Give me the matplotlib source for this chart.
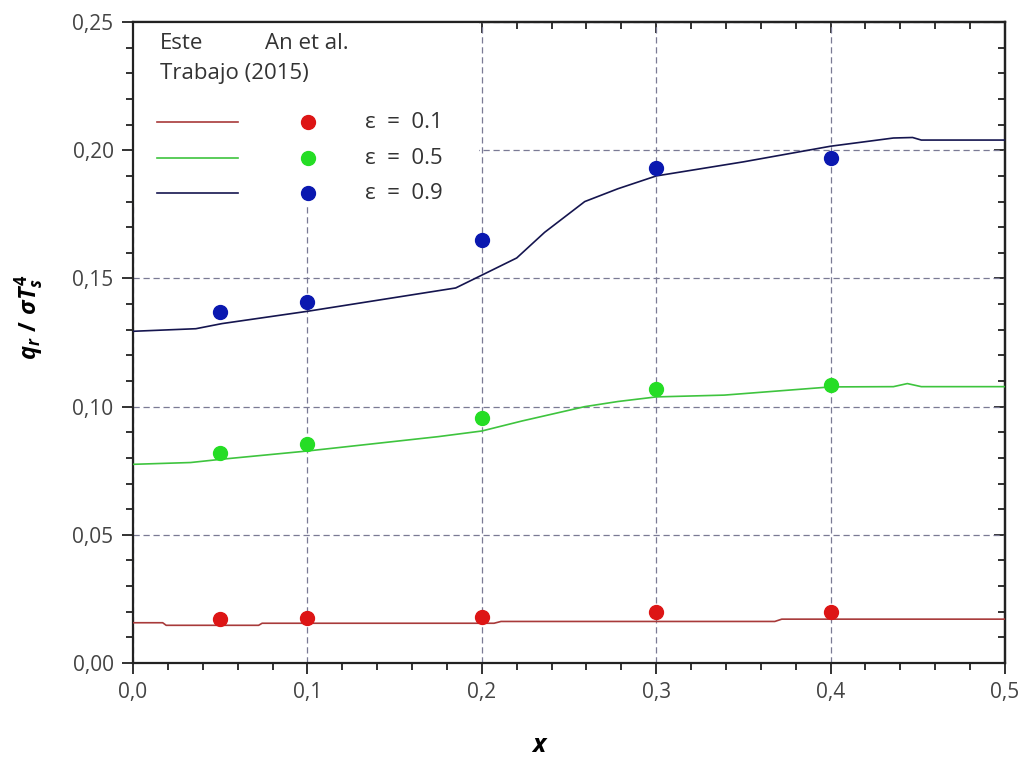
import numpy as np
import matplotlib.pyplot as plt
from matplotlib.ticker import MultipleLocator, FuncFormatter
from matplotlib.patches import Rectangle

plt.rcParams['font.family'] = ['Open Sans', 'DejaVu Sans']
plt.rcParams['mathtext.fontset'] = 'custom'
plt.rcParams['mathtext.it'] = 'Open Sans:italic:bold'
plt.rcParams['mathtext.rm'] = 'Open Sans:bold'
plt.rcParams['mathtext.bf'] = 'Open Sans:bold'

# Datos de referencia (An et al. 2015)
x_ref = [0.05, 0.1, 0.2, 0.3, 0.4]
q_ref_01 = [0.0171, 0.0174, 0.0180, 0.0197, 0.0197]
q_ref_05 = [0.0818, 0.0853, 0.0957, 0.1068, 0.1083]
q_ref_09 = [0.137, 0.141, 0.165, 0.193, 0.197]

# Este trabajo
x_01 = [0.0, 0.017, 0.019, 0.072, 0.074, 0.207, 0.211, 0.368, 0.372, 0.5]
q_01 = [0.0157, 0.0157, 0.0147, 0.0147, 0.0155, 0.0155, 0.0162, 0.0162, 0.0171, 0.0171]

x_05 = [0.0, 0.033, 0.051, 0.1, 0.175, 0.2, 0.223, 0.259, 0.278, 0.3, 0.339, 0.4,
        0.436, 0.444, 0.452, 0.5]
q_05 = [0.0775, 0.0782, 0.0795, 0.0827, 0.0883, 0.0905, 0.0944, 0.100, 0.102, 0.1038,
        0.1045, 0.1077, 0.1078, 0.109, 0.1078, 0.1078]

x_09 = [0.0, 0.036, 0.051, 0.1, 0.185, 0.2, 0.22, 0.236, 0.259, 0.278, 0.3, 0.35, 0.4,
        0.436, 0.447, 0.452, 0.5]
q_09 = [0.1294, 0.1304, 0.1324, 0.1372, 0.1463, 0.1513, 0.158, 0.168, 0.180, 0.185,
        0.190, 0.1955, 0.2016, 0.2048, 0.205, 0.204, 0.204]

eps_labels = ['ε = 0.1', 'ε = 0.5', 'ε = 0.9']
line_colors = ['#a83a3a', '#3ec43e', '#15154f']
dot_colors = ['#dd1515', '#25dd25', '#0a18b0']

fig = plt.figure(figsize=(10.25, 7.61), dpi=100)
ax = fig.add_axes([0.1298, 0.1288, 0.8507, 0.8421])

series = [(x_01, q_01, q_ref_01), (x_05, q_05, q_ref_05), (x_09, q_09, q_ref_09)]
for (xs, qs, qr), lc, dc in zip(series, line_colors, dot_colors):
    ax.plot(xs, qs, color=lc, lw=1.2, zorder=3)
    ax.plot(x_ref, qr, 'o', color=dc, ms=10, zorder=4)

ax.set_xlim(0, 0.5)
ax.set_ylim(0, 0.25)
ax.xaxis.set_major_locator(MultipleLocator(0.1))
ax.xaxis.set_minor_locator(MultipleLocator(0.02))
ax.yaxis.set_major_locator(MultipleLocator(0.05))
ax.yaxis.set_minor_locator(MultipleLocator(0.01))
ax.xaxis.set_major_formatter(FuncFormatter(lambda v, p: f'{v:.1f}'.replace('.', ',')))
ax.yaxis.set_major_formatter(FuncFormatter(lambda v, p: f'{v:.2f}'.replace('.', ',')))

ax.tick_params(which='both', direction='out', top=False, right=False,
               labelsize=15, labelcolor='#444444', color='#222222', width=1.3)
ax.tick_params(which='major', length=8, pad=6)
ax.tick_params(which='minor', length=5)
# ticks hacia adentro arriba y a la derecha
ax2 = ax.secondary_xaxis('top')
ax2.xaxis.set_major_locator(MultipleLocator(0.1))
ax2.xaxis.set_minor_locator(MultipleLocator(0.02))
ax2.tick_params(which='both', direction='in', labeltop=False, color='#222222', width=1.3)
ax2.tick_params(which='major', length=8)
ax2.tick_params(which='minor', length=5)
ax3 = ax.secondary_yaxis('right')
ax3.yaxis.set_major_locator(MultipleLocator(0.05))
ax3.yaxis.set_minor_locator(MultipleLocator(0.01))
ax3.tick_params(which='both', direction='in', labelright=False, color='#222222', width=1.3)
ax3.tick_params(which='major', length=8)
ax3.tick_params(which='minor', length=5)
for a in (ax, ax2, ax3):
    for s in a.spines.values():
        s.set_linewidth(1.6)
        s.set_color('#222222')

ax.set_axisbelow(True)
ax.grid(True, which='major', linestyle=(0, (5, 3)), color='#7a7a95', lw=0.9)

ax.set_xlabel(r'$x$', fontsize=18)
ax.set_ylabel(r'$q_r\ /\ \sigma T_s^4$', fontsize=17)
ax.xaxis.set_label_coords(0.467, -0.110)
ax.yaxis.set_label_coords(-0.100, 0.54)

# leyenda manual
tr = ax.transAxes
ax.add_patch(Rectangle((0, 0.714), 0.397, 0.286, transform=tr, facecolor='white',
                       edgecolor='none', zorder=1))
txt = dict(transform=tr, fontsize=16, color='#333333', va='center', zorder=5)
ax.text(0.031, 0.967, 'Este', ha='left', **txt)
ax.text(0.151, 0.967, 'An et al.', ha='left', **txt)
ax.text(0.031, 0.920, 'Trabajo (2015)', ha='left', **txt)
for yy, lab, lc, dc in zip([0.844, 0.788, 0.733], eps_labels, line_colors, dot_colors):
    ax.plot([0.0275, 0.120], [yy, yy], transform=tr, color=lc, lw=1.2, zorder=5)
    ax.plot([0.2007], [yy], 'o', transform=tr, color=dc, ms=10, zorder=5)
    ax.text(0.266, yy, lab.replace(' = ', '  =  '), ha='left', **txt)

fig.savefig('out.png', dpi=100)
